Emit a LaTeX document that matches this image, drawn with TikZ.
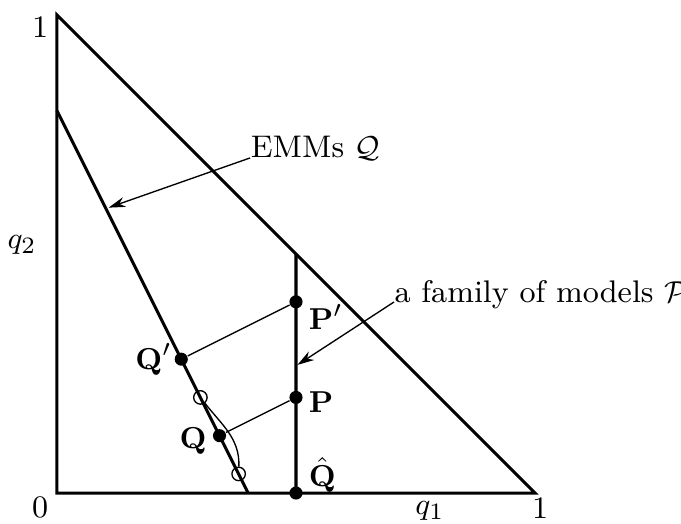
\documentclass[tikz,border=0pt]{standalone}
\usetikzlibrary{arrows.meta,calc,positioning}

\begin{document}
\begin{tikzpicture}[scale=5,>={Stealth[length=5pt,width=3pt]},
    every node/.style={font=\fontsize{9.3}{11}\selectfont},
    edge/.style={line width=0.9pt},
    thin/.style={line width=0.4pt},
    dot/.style={circle,fill,inner sep=0pt,minimum size=3.9pt},
    ring/.style={circle,draw,thin,inner sep=0pt,minimum size=4pt},
    lbl/.style={inner sep=0pt}]
  \useasboundingbox (-0.1192,-0.0628) rectangle (1.3054,1.0314);
  \coordinate (O) at (0,0);
  \coordinate (X1) at (1,0);
  \coordinate (X2) at (0,1);
  \coordinate (emmtop) at (0,0.8);
  \coordinate (emmbot) at (0.4,0);
  \coordinate (famtop) at (0.5,0.5);
  \draw[edge] (X2) -- (O) -- (X1) -- cycle;
  \draw[edge] (emmtop) -- (emmbot);
  \draw[edge] (0.5,0) -- (famtop);
  \foreach \n/\x/\y in {Qh/0.5/0,P/0.5/0.2,Pp/0.5/0.4,Q/0.34/0.12,Qp/0.26/0.28}
    \node[dot] (\n) at (\x,\y) {};
  \node[ring] (R1) at (0.30,0.20) {};
  \node[ring] (R2) at (0.38,0.04) {};
  \draw[thin] (P) -- (Q);
  \draw[thin] (Pp) -- (Qp);
  \draw[thin] (R1) to[out=-52,in=88] (R2);
  \node[lbl,left=0.5pt of Qp] (lQp) {$\mathbf{Q}'$};
  \node[lbl,left=1.5pt of Q,yshift=-1.5pt] (lQ) {$\mathbf{Q}$};
  \node[lbl,right=1.5pt of Pp,yshift=-4.5pt] (lPp) {$\mathbf{P}'$};
  \node[lbl,right=1.5pt of P,yshift=-1.5pt] (lP) {$\mathbf{P}$};
  \node[lbl,anchor=south west,xshift=1.5pt] (lQh) at (Qh.east) {$\hat{\mathbf{Q}}$};
  \node[lbl,anchor=base west] (emm) at (0.404,0.701) {EMMs $\mathcal{Q}$};
  \node[lbl,anchor=base west] (fam) at (0.705,0.3996) {a family of models $\mathcal{P}$};
  \coordinate (emmtip) at (0.108,0.597);
  \coordinate (famtip) at (0.503,0.268);
  \draw[thin,->] (emm.base west) -- (emmtip);
  \draw[thin,->] (fam.base west) -- (famtip);
  \node (one2) at (-0.035,0.975) {1};
  \node (zero) at (-0.035,-0.031) {0};
  \node (one1) at (1.0105,-0.031) {1};
  \node (q1) at (0.780,-0.0377) {$q_1$};
  \node (q2) at (-0.073,0.519) {$q_2$};
\end{tikzpicture}
\end{document}
